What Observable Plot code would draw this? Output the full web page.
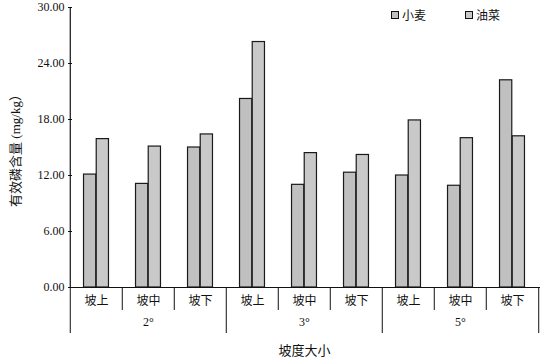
<!DOCTYPE html>
<html><head><meta charset="utf-8">
<script src="https://cdn.jsdelivr.net/npm/d3@7"></script>
<script src="https://cdn.jsdelivr.net/npm/@observablehq/plot@0.6"></script>
<style>
body{margin:0;background:#fff;}
#wrap{position:relative;width:543px;height:360px;font-family:"Liberation Serif","Noto Sans CJK SC",serif;}
#legend{position:absolute;top:7px;left:0;width:543px;height:18px;font-size:12px;color:#111;}
.item{position:absolute;top:0;display:flex;align-items:center;height:16px;}
.sw{width:6px;height:6px;border:1px solid #111;margin-right:3px;}
</style></head>
<body><div id="wrap"><div id="legend"></div></div>
<script>
const degrees = ["2°", "3°", "5°"];
const slopes = ["坡上", "坡中", "坡下"];
const crops = ["小麦", "油菜"];
const wheat = [12.1, 11.1, 15.0, 20.2, 11.0, 12.3, 12.0, 10.9, 22.2];
const rape  = [15.9, 15.1, 16.4, 26.3, 14.4, 14.2, 17.9, 16.0, 16.2];
const yTicks = [0, 6, 12, 18, 24, 30];
const colors = ["#c0c0c0", "#c9c9c9"];
const yLabel = "有效磷含量 (mg/kg）";
const xLabel = "坡度大小";

const keys = [];
degrees.forEach(d => slopes.forEach(s => keys.push(d + "|" + s)));
const rows = [];
keys.forEach((k, i) => {
  rows.push({key: k, crop: crops[0], value: wheat[i]});
  rows.push({key: k, crop: crops[1], value: rape[i]});
});

const W = 543, H = 360, mL = 68, mR = 3, mT = 7, mB = 73;
const step = (W - mL - mR) / keys.length;
const bw = 12.7;
const side = (step - 2 * bw) / 2;

const shortKeys = keys.filter((k, i) => i % 3 !== 0);
const longKeys = keys.filter((k, i) => i % 3 === 0);
const midKeys = keys.filter((k, i) => i % 3 === 1);

const chart = Plot.plot({
  width: W, height: H,
  marginLeft: mL, marginRight: mR, marginTop: mT, marginBottom: mB,
  style: {fontFamily: '"Liberation Serif","Noto Sans CJK SC",serif', fontSize: "12px", color: "#111", background: "#fff"},
  x: {domain: keys, padding: 0},
  y: {domain: [0, 30]},
  color: {domain: crops, range: colors},
  marks: [
    Plot.barY(rows.filter(d => d.crop === crops[0]), {x: "key", y: "value", fill: "crop", stroke: "#1a1a1a", strokeWidth: 1.2, insetLeft: side, insetRight: side + bw}),
    Plot.barY(rows.filter(d => d.crop === crops[1]), {x: "key", y: "value", fill: "crop", stroke: "#1a1a1a", strokeWidth: 1.2, insetLeft: side + bw, insetRight: side}),
    Plot.ruleY([0], {stroke: "#111", strokeWidth: 1.2}),
    Plot.ruleX([keys[0]], {dx: -step / 2, y1: 0, y2: 30, stroke: "#111", strokeWidth: 1.2}),
    Plot.axisY(yTicks, {tickSize: -4, tickPadding: 8, tickFormat: d => d.toFixed(2), label: null, stroke: "#111"}),
    Plot.axisY([], {label: yLabel, labelAnchor: "center", labelArrow: "none", labelOffset: 58, fontSize: 13}),
    Plot.axisX(keys, {tickSize: 0, tickPadding: 9, tickFormat: k => k.split("|")[1], label: null}),
    Plot.axisX(midKeys, {tickSize: 0, tickPadding: 30, tickFormat: k => k.split("|")[0], label: null}),
    Plot.axisX(shortKeys, {tickSize: 23, dx: -step / 2, text: null, label: null, stroke: "#111"}),
    Plot.axisX(longKeys, {tickSize: 46, dx: -step / 2, text: null, label: null, stroke: "#111"}),
    Plot.axisX([keys[keys.length - 1]], {tickSize: 46, dx: step / 2, text: null, label: null, stroke: "#111"}),
    Plot.axisX([], {label: xLabel, labelAnchor: "center", labelArrow: "none", labelOffset: 67, fontSize: 13})
  ]
});
document.getElementById("wrap").prepend(chart);

const legend = document.getElementById("legend");
const lx = [391, 465];
crops.forEach((c, i) => {
  const it = document.createElement("div");
  it.className = "item";
  it.style.left = lx[i] + "px";
  it.innerHTML = `<div class="sw" style="background:${colors[i]}"></div><span>${c}</span>`;
  legend.appendChild(it);
});
</script></body></html>
